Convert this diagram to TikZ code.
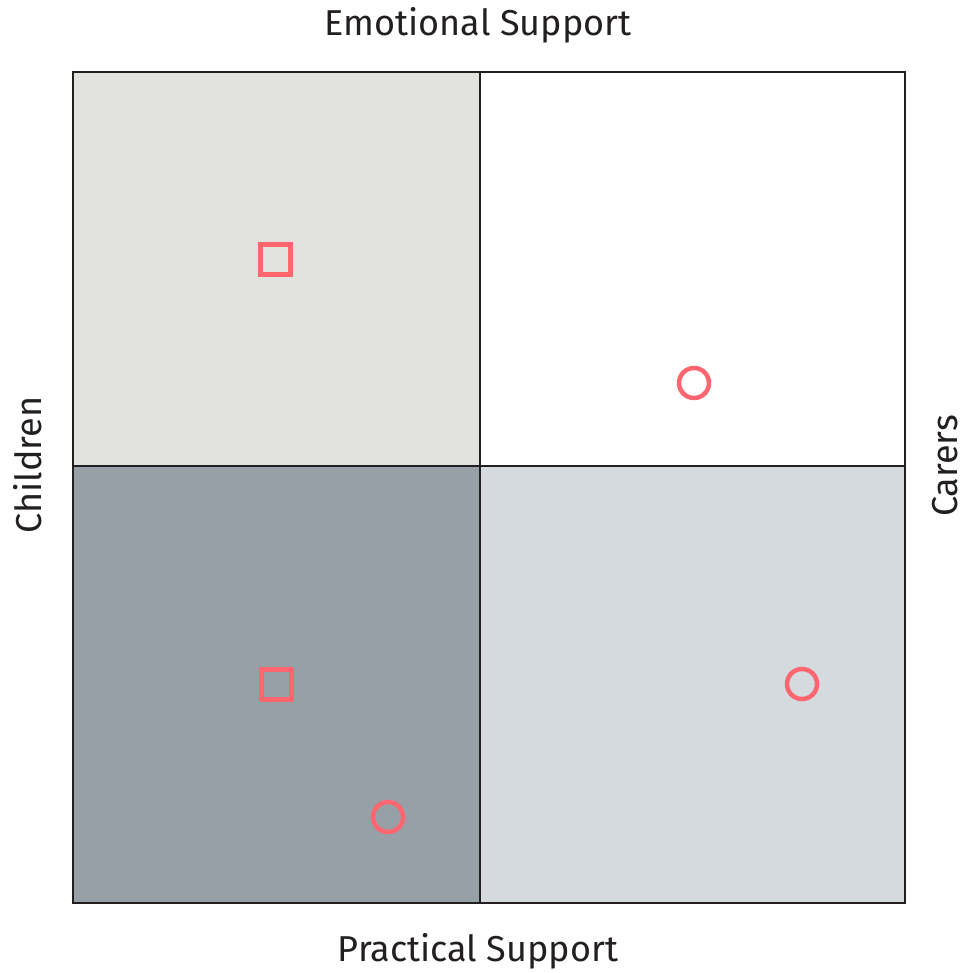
\documentclass[tikz,border=0pt]{standalone}
\usepackage{fontspec}
\setmainfont{Fira Sans}
\definecolor{tl}{HTML}{E2E3DF}
\definecolor{bl}{HTML}{979FA7}
\definecolor{br}{HTML}{D5DADE}
\definecolor{mk}{HTML}{FF6670}
\definecolor{ln}{HTML}{231F20}
\begin{document}
\begin{tikzpicture}[x=1pt,y=-1pt,
  lbl/.style={font=\fontsize{36}{42}\selectfont, text=ln},
  sqm/.style={draw=mk, line width=5pt, minimum size=30pt, inner sep=0pt, shape=rectangle},
  circm/.style={draw=mk, line width=4.5pt, circle, minimum size=30pt, inner sep=0pt}]
\useasboundingbox (0,0) rectangle (964,973);
\fill[tl] (73,72) rectangle (480,466);
\fill[white] (480,72) rectangle (905,466);
\fill[bl] (73,466) rectangle (480,903);
\fill[br] (480,466) rectangle (905,903);
\draw[ln, line width=2.6pt] (73,72) rectangle (905,903);
\draw[ln, line width=2.6pt] (480,72) -- (480,903);
\draw[ln, line width=2.6pt] (73,466) -- (905,466);
\node[sqm] (s1) at (275,260) {};
\node[sqm] (s2) at (276,684) {};
\node[circm] (c1) at (694,383) {};
\node[circm] (c2) at (802,684) {};
\node[circm] (c3) at (388,817) {};
\node[lbl] (top) at (478,25) {Emotional Support};
\node[lbl] (bot) at (478,951) {Practical Support};
\node[lbl, rotate=90] (left) at (28,465) {Children};
\node[lbl, rotate=90] (right) at (945,466) {Carers};
\end{tikzpicture}
\end{document}
